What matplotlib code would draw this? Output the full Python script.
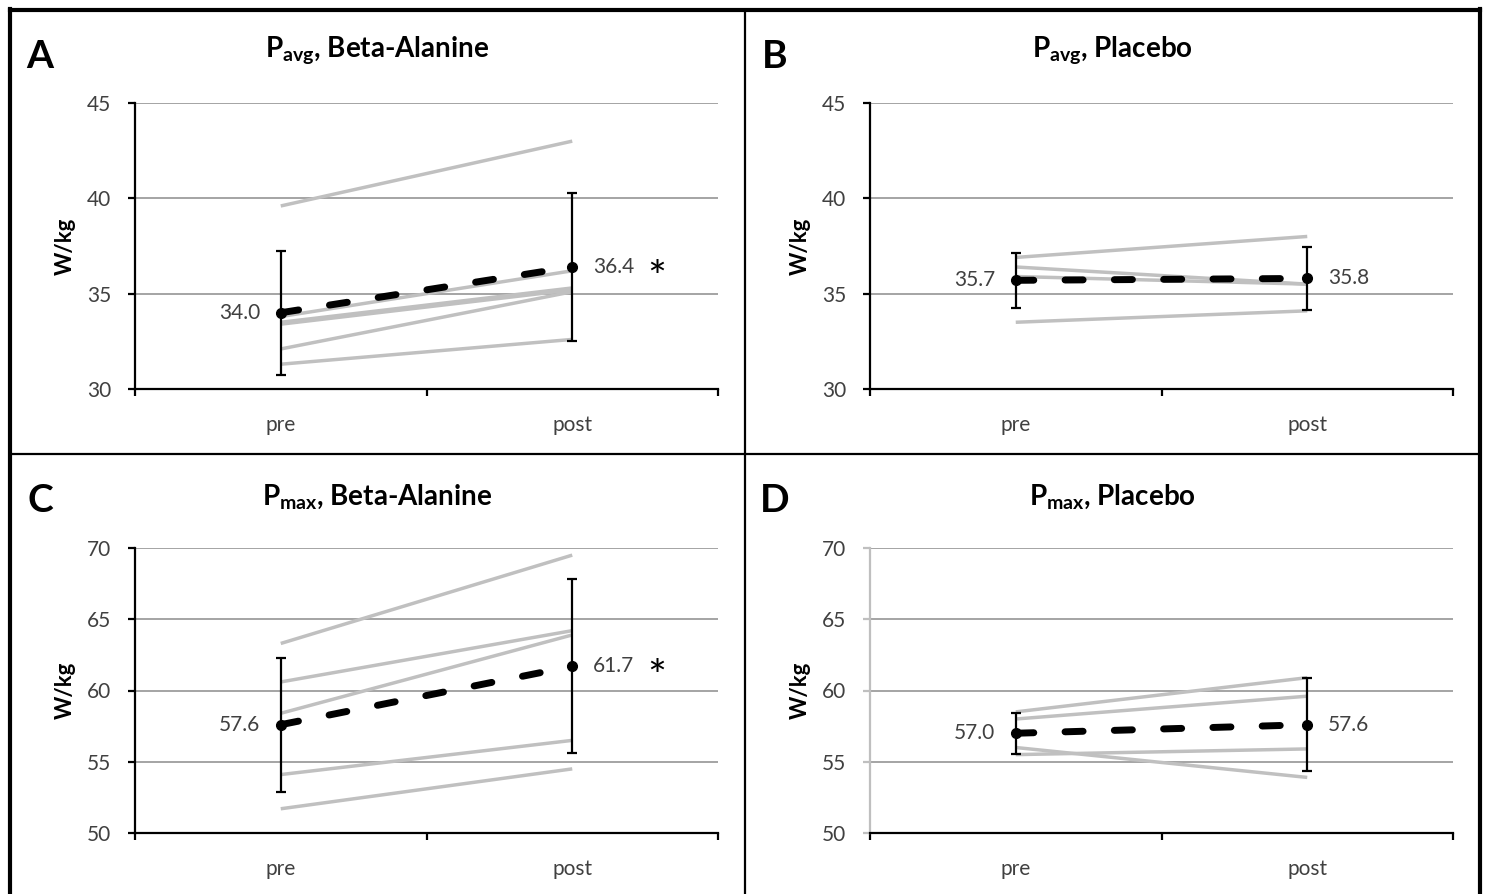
import matplotlib.pyplot as plt
from matplotlib.lines import Line2D

plt.rcParams['font.family'] = ['Lato', 'DejaVu Sans']
plt.rcParams['mathtext.fontset'] = 'custom'
plt.rcParams['mathtext.rm'] = 'Lato'
plt.rcParams['mathtext.bf'] = 'Lato:bold'

# data (W/kg)
times = ['pre', 'post']

avg_ba_pre = [39.6, 33.8, 33.5, 33.4, 32.1, 31.3]
avg_ba_post = [43.0, 36.2, 35.3, 35.2, 35.1, 32.6]
avg_ba_mean = [34.0, 36.4]
avg_ba_sd = [3.25, 3.9]

avg_pl_pre = [36.9, 36.4, 35.9, 33.5]
avg_pl_post = [38.0, 35.5, 35.5, 34.1]
avg_pl_mean = [35.7, 35.8]
avg_pl_sd = [1.45, 1.65]

max_ba_pre = [63.3, 60.6, 58.4, 54.1, 51.7]
max_ba_post = [69.5, 64.2, 63.9, 56.5, 54.5]
max_ba_mean = [57.6, 61.7]
max_ba_sd = [4.7, 6.1]

max_pl_pre = [58.5, 58.0, 56.0, 55.5]
max_pl_post = [60.9, 59.6, 53.9, 55.9]
max_pl_mean = [57.0, 57.6]
max_pl_sd = [1.44, 3.25]

W, H = 1489, 894


def fx(x):
    return x / W


def fy(y):
    return 1 - y / H


fig = plt.figure(figsize=(W / 100, H / 100), dpi=100)

panels = [
    dict(rect=(135, 103, 718, 389), letter='A', title=r'$\mathbf{P_{avg}}$, Beta-Alanine',
         pre=avg_ba_pre, post=avg_ba_post, mean=avg_ba_mean, sd=avg_ba_sd,
         ylim=(30, 45), ticks=[30, 35, 40, 45], star=True, grey_spine=False),
    dict(rect=(870, 103, 1453, 389), letter='B', title=r'$\mathbf{P_{avg}}$, Placebo',
         pre=avg_pl_pre, post=avg_pl_post, mean=avg_pl_mean, sd=avg_pl_sd,
         ylim=(30, 45), ticks=[30, 35, 40, 45], star=False, grey_spine=False),
    dict(rect=(135, 548, 718, 833), letter='C', title=r'$\mathbf{P_{max}}$, Beta-Alanine',
         pre=max_ba_pre, post=max_ba_post, mean=max_ba_mean, sd=max_ba_sd,
         ylim=(50, 70), ticks=[50, 55, 60, 65, 70], star=True, grey_spine=False),
    dict(rect=(870, 548, 1453, 833), letter='D', title=r'$\mathbf{P_{max}}$, Placebo',
         pre=max_pl_pre, post=max_pl_post, mean=max_pl_mean, sd=max_pl_sd,
         ylim=(50, 70), ticks=[50, 55, 60, 65, 70], star=False, grey_spine=True),
]

xpos = [0.5, 1.5]
txt_col = '#404040'

for p in panels:
    x0, y0, x1, y1 = p['rect']
    ax = fig.add_axes([fx(x0), fy(y1), (x1 - x0) / W, (y1 - y0) / H])
    ax.set_xlim(0, 2)
    ax.set_ylim(*p['ylim'])
    ax.set_yticks(p['ticks'])
    ax.yaxis.grid(True, color='#8c8c8c', lw=1.1)
    ax.set_axisbelow(True)

    for a, b in zip(p['pre'], p['post']):
        ax.plot(xpos, [a, b], color='#c0c0c0', lw=2.5, solid_capstyle='butt', zorder=2)

    ax.errorbar(xpos, p['mean'], yerr=p['sd'], fmt='none', ecolor='black',
                elinewidth=1.6, capsize=3.5, capthick=1.6, zorder=3)
    ax.plot(xpos, p['mean'], color='black', lw=5, linestyle=(0, (2.6, 4.5)),
            dash_capstyle='round', marker='o', markersize=7, zorder=4)

    ax.annotate(f"{p['mean'][0]:.1f}", (xpos[0], p['mean'][0]), xytext=(-15, 0),
                textcoords='offset points', ha='right', va='center', fontsize=15, color=txt_col)
    ax.annotate(f"{p['mean'][1]:.1f}", (xpos[1], p['mean'][1]), xytext=(15, 0),
                textcoords='offset points', ha='left', va='center', fontsize=15, color=txt_col)
    if p['star']:
        ax.annotate('*', (xpos[1], p['mean'][1]), xytext=(61, -9),
                    textcoords='offset points', ha='center', va='center', fontsize=32)

    for s in ['top', 'right']:
        ax.spines[s].set_visible(False)
    for s in ['left', 'bottom']:
        ax.spines[s].set_linewidth(1.6)
    if p['grey_spine']:
        ax.spines['left'].set_color('#bfbfbf')
        ax.tick_params(axis='y', color='#bfbfbf')

    ax.set_xticks([0, 1, 2])
    ax.set_xticklabels([])
    ax.set_xticks(xpos, minor=True)
    ax.set_xticklabels(times, minor=True)
    ax.tick_params(axis='x', which='major', direction='out', length=5, width=1.6)
    ax.tick_params(axis='x', which='minor', length=0, pad=19, labelsize=15, labelcolor=txt_col)
    ax.tick_params(axis='y', direction='out', length=5, width=1.6, pad=12,
                   labelsize=15, labelcolor=txt_col)

    cx = 377 if x0 < 500 else 1112
    ty = 50 if y0 < 400 else 496
    fig.text(fx(cx), fy(ty), p['title'], ha='center', va='center', fontsize=20, fontweight='bold')
    lx = 40 if x0 < 500 else 775
    ly = 57 if y0 < 400 else 500
    fig.text(fx(lx), fy(ly), p['letter'], ha='center', va='center', fontsize=28, fontweight='bold')
    fig.text(fx(65 if x0 < 500 else 800), fy((y0 + y1) / 2), 'W/kg', rotation=90,
             ha='center', va='center', fontsize=16, fontweight='bold')

# panel frame
frame = dict(color='black', transform=fig.transFigure)
fig.add_artist(Line2D([fx(10), fx(10)], [fy(9), 0], lw=3, **frame))
fig.add_artist(Line2D([fx(1480), fx(1480)], [fy(9), 0], lw=3, **frame))
fig.add_artist(Line2D([fx(10), fx(1480)], [fy(10), fy(10)], lw=3, **frame))
fig.add_artist(Line2D([fx(745), fx(745)], [fy(10), 0], lw=1.6, **frame))
fig.add_artist(Line2D([fx(10), fx(1480)], [fy(454), fy(454)], lw=1.6, **frame))

fig.savefig('out.png', dpi=100)
